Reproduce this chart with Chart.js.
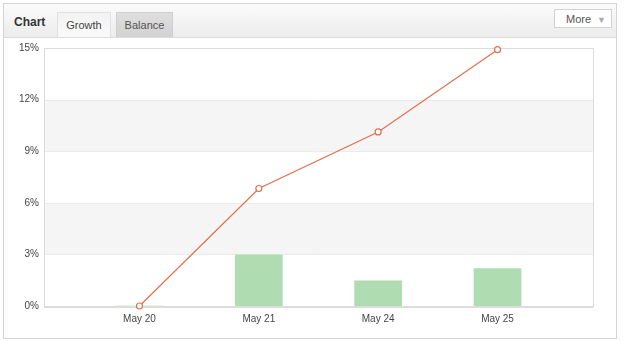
<!DOCTYPE html>
<html>
<head>
<meta charset="utf-8">
<script src="https://cdn.jsdelivr.net/npm/chart.js@4"></script>
<style>
  body { margin: 0; background: #fff; font-family: "Liberation Sans", Arial, sans-serif; }
  .panel { position: absolute; left: 3px; top: 3px; width: 612px; height: 334px; border: 1px solid #d4d4d4; background: #fff; }
  .head { position: absolute; left: 0; top: 0; right: 0; height: 33px; background: linear-gradient(#fbfbfb, #ececec); border-bottom: 1px solid #dcdcdc; }
  .title { position: absolute; left: 10px; top: 11px; font-weight: bold; font-size: 12px; color: #333; }
  .tab { position: absolute; top: 8px; height: 25px; font-size: 11px; line-height: 24px; text-align: center; box-sizing: border-box; }
  .tab.on { left: 53px; width: 54px; background: linear-gradient(#f2f2f2, #fafafa); border: 1px solid #e2e2e2; border-bottom: none; color: #444; }
  .tab.off { left: 112px; width: 57px; background: linear-gradient(#dedede, #d2d2d2); border: 1px solid #cfcfcf; border-bottom: none; color: #555; }
  .more { position: absolute; right: 4px; top: 5px; width: 58px; height: 19px; background: #fff; border: 1px solid #d2d2d2; font-size: 11px; line-height: 18px; color: #555; box-sizing: border-box; padding-left: 11px; }
  .more span { color: #aaa; font-size: 9px; margin-left: 6px; }
  #wrap { position: absolute; left: 0; top: 0; width: 625px; height: 341px; }
</style>
</head>
<body>
<div class="panel">
  <div class="head">
    <div class="title">Chart</div>
    <div class="tab on">Growth</div>
    <div class="tab off">Balance</div>
    <div class="more">More<span>&#9660;</span></div>
  </div>
</div>
<div id="wrap"><canvas id="chart" width="625" height="341"></canvas></div>
<script>
// === Data ===
const labels = ["May 20", "May 21", "May 24", "May 25"];
const growth = [0, 6.83, 10.12, 14.9];
const balance = [0, 2.97, 1.46, 2.18];
const yTicks = [0, 3, 6, 9, 12, 15];

// alternating bands + frame around the plot
const bandPlugin = {
  id: "bands",
  beforeDatasetsDraw(chart) {
    const { ctx, chartArea: a, scales: { y } } = chart;
    ctx.save();
    ctx.fillStyle = "#f5f5f5";
    [[3, 6], [9, 12]].forEach(([lo, hi]) => {
      const top = y.getPixelForValue(hi);
      const bot = y.getPixelForValue(lo);
      ctx.fillRect(a.left, top, a.right - a.left, bot - top);
    });
    ctx.strokeStyle = "#ebebeb";
    ctx.lineWidth = 1;
    yTicks.forEach((v) => {
      const py = Math.round(y.getPixelForValue(v)) + 0.5;
      ctx.beginPath();
      ctx.moveTo(a.left, py);
      ctx.lineTo(a.right, py);
      ctx.stroke();
    });
    ctx.strokeStyle = "#dcdcdc";
    ctx.strokeRect(Math.round(a.left) + 0.5, Math.round(a.top) + 0.5,
      Math.round(a.right - a.left), Math.round(a.bottom - a.top));
    ctx.lineWidth = 2;
    ctx.beginPath();
    ctx.moveTo(a.left, Math.round(a.bottom) + 1);
    ctx.lineTo(a.right, Math.round(a.bottom) + 1);
    ctx.stroke();
    ctx.restore();
  },
};

const ctx = document.getElementById("chart").getContext("2d");
new Chart(ctx, {
  type: "bar",
  data: {
    datasets: [
      {
        type: "line",
        data: growth.map((v, i) => ({ x: i, y: v })),
        borderColor: "#e2704c",
        borderWidth: 1.2,
        pointRadius: 3,
        pointBorderWidth: 1.2,
        pointBackgroundColor: "#fff",
        pointBorderColor: "#e2704c",
        clip: false,
        tension: 0,
      },
      {
        type: "bar",
        data: balance.map((v, i) => ({ x: i, y: v })),
        backgroundColor: "#afdcb1",
        barThickness: 47,
      },
    ],
  },
  options: {
    responsive: false,
    animation: false,
    layout: { padding: { left: 0, right: 32, top: 48, bottom: 0 } },
    plugins: { legend: { display: false }, tooltip: { enabled: false } },
    scales: {
      x: {
        type: "linear",
        offset: false,
        min: -0.8,
        max: 3.8,
        afterBuildTicks: (s) => { s.ticks = labels.map((_, i) => ({ value: i })); },
        afterFit: (s) => { s.height = 35; },
        grid: { display: false, drawTicks: false, offset: false },
        border: { display: false },
        ticks: {
          padding: 7,
          color: "#444",
          font: { family: "Liberation Sans", size: 10 },
          callback: (v) => labels[v] ?? "",
          maxRotation: 0,
        },
      },
      y: {
        min: 0,
        max: 15,
        afterBuildTicks: (s) => { s.ticks = yTicks.map((v) => ({ value: v })); },
        afterFit: (s) => { s.width = 44; },
        grid: { display: false, drawTicks: false },
        border: { display: false },
        ticks: {
          padding: 5,
          color: "#444",
          font: { family: "Liberation Sans", size: 10 },
          callback: (v) => v + "%",
        },
      },
    },
  },
  plugins: [bandPlugin],
});
</script>
</body>
</html>
